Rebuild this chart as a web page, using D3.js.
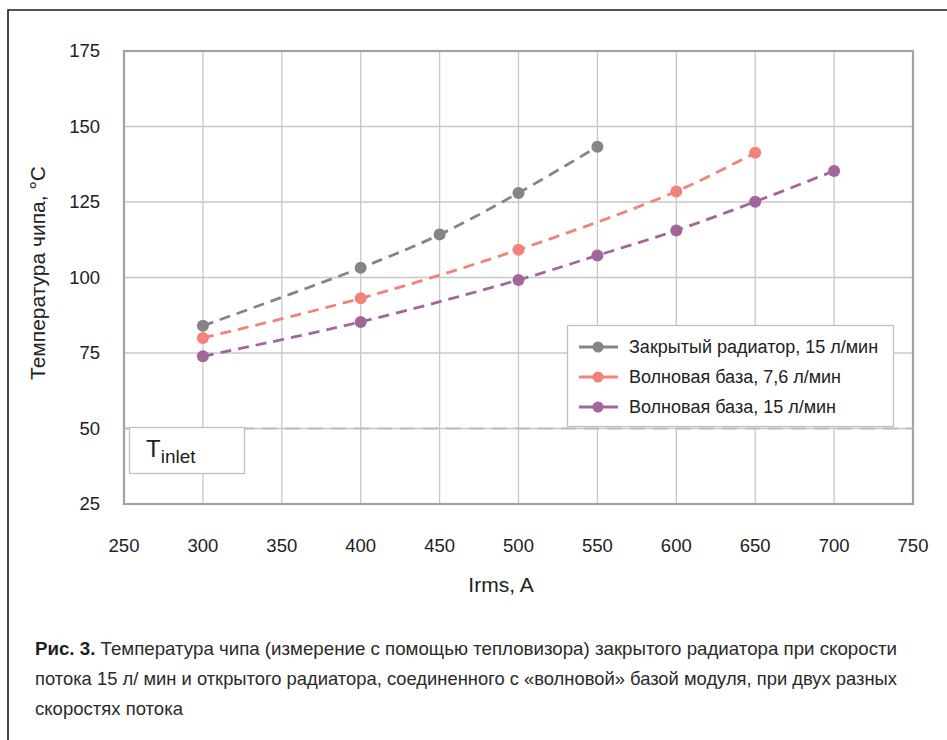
<!DOCTYPE html>
<html lang="ru">
<head>
<meta charset="UTF-8">
<title>Температура чипа</title>
<script src="https://d3js.org/d3.v7.min.js"></script>
<style>
  body { margin: 0; background: #fff; }
  svg { display: block; font-family: "Liberation Sans", Arial, sans-serif; }
  .grid line { stroke: #c8c8c8; stroke-width: 1.3; }
  .tick-label { font-size: 18.5px; fill: #222; }
  .caption { font-family: "Liberation Sans Narrow", "Liberation Sans", sans-serif; font-size: 19px; fill: #2a2a2a; }
</style>
</head>
<body>
<svg id="chart" width="947" height="740"></svg>
<script>
// данные
const xTicks = [250, 300, 350, 400, 450, 500, 550, 600, 650, 700, 750];
const yTicks = [25, 50, 75, 100, 125, 150, 175];

const closedX = [300, 400, 450, 500, 550];
const closedY = [84, 103.2, 114.2, 128, 143.3];

const wave76X = [300, 400, 500, 600, 650];
const wave76Y = [80, 93.1, 109.2, 128.5, 141.3];

const wave15X = [300, 400, 500, 550, 600, 650, 700];
const wave15Y = [73.9, 85.3, 99.2, 107.3, 115.6, 125.1, 135.3];

const seriesNames = ["Закрытый радиатор, 15 л/мин", "Волновая база, 7,6 л/мин", "Волновая база, 15 л/мин"];
const seriesColors = ["#858588", "#f2837b", "#a3669b"];
const inletTemp = 50;

const series = [
  { name: seriesNames[0], color: seriesColors[0], pts: closedX.map((x, i) => [x, closedY[i]]) },
  { name: seriesNames[1], color: seriesColors[1], pts: wave76X.map((x, i) => [x, wave76Y[i]]) },
  { name: seriesNames[2], color: seriesColors[2], pts: wave15X.map((x, i) => [x, wave15Y[i]]) }
];

const svg = d3.select("#chart");
const plot = { left: 124, top: 51, right: 913, bottom: 504 };

const x = d3.scaleLinear().domain([250, 750]).range([plot.left, plot.right]);
const y = d3.scaleLinear().domain([25, 175]).range([plot.bottom, plot.top]);

// внешняя рамка
svg.append("path")
  .attr("d", "M8,740 L8,10 L947,10")
  .attr("fill", "none")
  .attr("stroke", "#1a1a1a")
  .attr("stroke-width", 1.6);

// сетка
const grid = svg.append("g").attr("class", "grid");
grid.selectAll(".vx").data(xTicks).join("line")
  .attr("x1", d => x(d)).attr("x2", d => x(d))
  .attr("y1", plot.top).attr("y2", plot.bottom);
grid.selectAll(".hy").data(yTicks).join("line")
  .attr("x1", plot.left).attr("x2", plot.right)
  .attr("y1", d => y(d)).attr("y2", d => y(d));

// рамка области построения
svg.append("rect")
  .attr("x", plot.left).attr("y", plot.top)
  .attr("width", plot.right - plot.left).attr("height", plot.bottom - plot.top)
  .attr("fill", "none").attr("stroke", "#a2a2a5").attr("stroke-width", 2.2);

// подписи осей
svg.selectAll(".xl").data(xTicks).join("text")
  .attr("class", "tick-label")
  .attr("x", d => x(d)).attr("y", 552)
  .attr("text-anchor", "middle")
  .text(d => d);
svg.selectAll(".yl").data(yTicks).join("text")
  .attr("class", "tick-label")
  .attr("x", 100).attr("y", d => y(d) + 6)
  .attr("text-anchor", "end")
  .text(d => d);

svg.append("text")
  .attr("transform", "translate(45,273) rotate(-90)")
  .attr("text-anchor", "middle")
  .attr("font-size", 21).attr("fill", "#222")
  .text("Температура чипа, °C");

svg.append("text")
  .attr("x", 501).attr("y", 592)
  .attr("text-anchor", "middle")
  .attr("font-size", 21).attr("fill", "#222")
  .text("Irms, A");

// линия T inlet
svg.append("line")
  .attr("x1", plot.left).attr("x2", plot.right)
  .attr("y1", y(inletTemp)).attr("y2", y(inletTemp))
  .attr("stroke", "#bdbdbd").attr("stroke-width", 2)
  .attr("stroke-dasharray", "15,8");

const tBox = svg.append("g");
tBox.append("rect")
  .attr("x", 129.5).attr("y", 427.5).attr("width", 115).attr("height", 46)
  .attr("fill", "#fff").attr("stroke", "#c0c0c0").attr("stroke-width", 1.3);
const tText = tBox.append("text").attr("x", 146).attr("y", 457).attr("fill", "#222");
tText.append("tspan").attr("font-size", 24).text("T");
tText.append("tspan").attr("font-size", 19).attr("dy", 6).text("inlet");

// серии
const line = d3.line()
  .x(d => x(d[0])).y(d => y(d[1]))
  .curve(d3.curveCatmullRom.alpha(0.5));

series.forEach(s => {
  svg.append("path")
    .attr("d", line(s.pts))
    .attr("fill", "none")
    .attr("stroke", s.color)
    .attr("stroke-width", 2.8)
    .attr("stroke-dasharray", "11,7");
  svg.selectAll(null).data(s.pts).join("circle")
    .attr("cx", d => x(d[0])).attr("cy", d => y(d[1]))
    .attr("r", 6)
    .attr("fill", s.color);
});

// легенда
const lg = svg.append("g");
lg.append("rect")
  .attr("x", 567.5).attr("y", 325.5).attr("width", 326).attr("height", 101)
  .attr("fill", "#fff").attr("stroke", "#c0c0c0").attr("stroke-width", 1.3);
series.forEach((s, i) => {
  const ly = 347 + i * 30;
  lg.append("line")
    .attr("x1", 579).attr("x2", 618).attr("y1", ly).attr("y2", ly)
    .attr("stroke", s.color).attr("stroke-width", 2.8);
  lg.append("circle").attr("cx", 598).attr("cy", ly).attr("r", 5.5).attr("fill", s.color);
  lg.append("text")
    .attr("x", 629).attr("y", ly + 6)
    .attr("font-size", 18).attr("fill", "#222")
    .text(s.name);
});

// подпись к рисунку
const capLines = [
  "Температура чипа (измерение с помощью тепловизора) закрытого радиатора при скорости",
  "потока 15 л/ мин и открытого радиатора, соединенного с «волновой» базой модуля, при двух разных",
  "скоростях потока"
];
const capWidths = [862, 862, 148];
const cap = svg.append("g").attr("class", "caption");
const c0 = cap.append("text").attr("x", 35).attr("y", 655)
  .attr("textLength", capWidths[0]).attr("lengthAdjust", "spacingAndGlyphs");
c0.append("tspan").attr("font-weight", "bold").attr("fill", "#1e1e1e").text("Рис. 3.");
c0.append("tspan").text(" " + capLines[0]);
cap.append("text").attr("x", 35).attr("y", 685)
  .attr("textLength", capWidths[1]).attr("lengthAdjust", "spacingAndGlyphs")
  .text(capLines[1]);
cap.append("text").attr("x", 35).attr("y", 715)
  .attr("textLength", capWidths[2]).attr("lengthAdjust", "spacingAndGlyphs")
  .text(capLines[2]);
</script>
</body>
</html>
